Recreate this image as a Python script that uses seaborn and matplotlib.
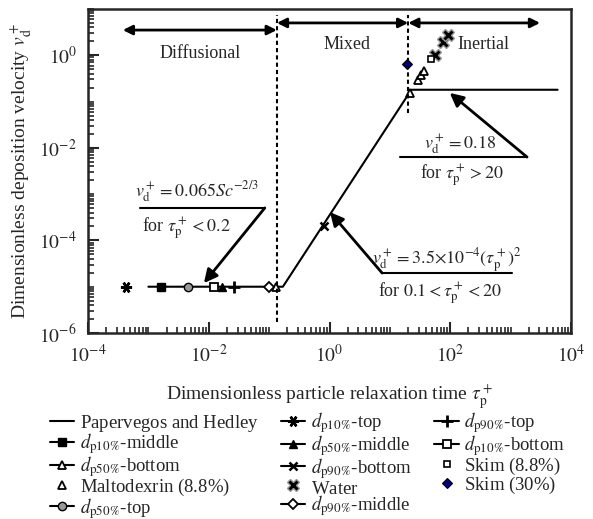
import numpy as np
import pandas as pd
import matplotlib.pyplot as plt
import matplotlib.ticker as mticker
import seaborn as sns

# Papervegos and Hedley correlation (piecewise)
pvh_tau = [1e-3, 0.169, 22.7, 6000]
pvh_vd = [1e-5, 1e-5, 0.18, 0.18]

# measured points (tau_p+, v_d+)
p10_top_tau, p10_top_vd = [4.3e-4], [1e-5]
p10_mid_tau, p10_mid_vd = [1.6e-3], [1e-5]
p10_bot_tau, p10_bot_vd = [0.012], [1e-5]
p50_top_tau, p50_top_vd = [4.5e-3], [1e-5]
p50_mid_tau, p50_mid_vd = [0.0166], [1e-5]
p50_bot_tau, p50_bot_vd = [0.13], [1e-5]
p90_top_tau, p90_top_vd = [0.026], [1e-5]
p90_mid_tau, p90_mid_vd = [0.1], [1e-5]
p90_bot_tau, p90_bot_vd = [0.8], [2.1e-4]
malto_tau, malto_vd = [21.5, 29, 33, 37], [0.15, 0.29, 0.37, 0.45]
water_tau, water_vd = [56, 76, 93], [1.0, 1.9, 2.8]
skim88_tau, skim88_vd = [48], [0.82]
skim30_tau, skim30_vd = [19], [0.64]

sns.set_style('ticks')
plt.rcParams['font.family'] = ['Liberation Serif', 'DejaVu Serif']
plt.rcParams['mathtext.fontset'] = 'stix'

fig = plt.figure(figsize=(5.93, 5.19), dpi=100)
ax = fig.add_axes([88/593, 1-333/519, 483/593, 324/519])

# invisible subscript so plain legend rows are as tall as the d_p rows
pad = r'$_{\ }$'

sns.lineplot(x=pvh_tau, y=pvh_vd, ax=ax, color='black', lw=1.5, sort=False,
             estimator=None, label='Papervegos and Hedley' + pad)

def dp(name):
    return r'$d_{\mathrm{' + name + r'}}$'

series = [
    (p10_mid_tau, p10_mid_vd, dp('p10\\%') + '-middle', dict(marker='s', mfc='black', mec='black', ms=6, ls='-')),
    (p50_bot_tau, p50_bot_vd, dp('p50\\%') + '-bottom', dict(marker='^', mfc='white', mec='black', ms=6, mew=1.3, ls='-')),
    (malto_tau, malto_vd, 'Maltodexrin (8.8%)' + pad, dict(marker='^', mfc='white', mec='black', ms=6, mew=1.3, ls='')),
    (p50_top_tau, p50_top_vd, dp('p50\\%') + '-top', dict(marker='o', mfc='0.6', mec='black', ms=6, ls='-')),
    (p10_top_tau, p10_top_vd, dp('p10\\%') + '-top', dict(marker=(6, 2, 90), mfc='black', mec='black', ms=8, mew=1.8, ls='-')),
    (p50_mid_tau, p50_mid_vd, dp('p50\\%') + '-middle', dict(marker='^', mfc='black', mec='black', ms=6, ls='-')),
    (p90_bot_tau, p90_bot_vd, dp('p90\\%') + '-bottom', dict(marker='x', mfc='black', mec='black', ms=6, mew=1.8, ls='-')),
    (water_tau, water_vd, 'Water' + pad, dict(marker='X', mfc='black', mec='0.6', ms=8, ls='')),
    (p90_mid_tau, p90_mid_vd, dp('p90\\%') + '-middle', dict(marker='D', mfc='white', mec='black', ms=5, mew=1.3, ls='-')),
    (p90_top_tau, p90_top_vd, dp('p90\\%') + '-top', dict(marker='+', mfc='black', mec='black', ms=8, mew=2, ls='-')),
    (p10_bot_tau, p10_bot_vd, dp('p10\\%') + '-bottom', dict(marker='s', mfc='white', mec='black', ms=6, mew=1.3, ls='-')),
    (skim88_tau, skim88_vd, 'Skim (8.8%)' + pad, dict(marker='s', mfc='white', mec='black', ms=5, mew=1.2, ls='')),
    (skim30_tau, skim30_vd, 'Skim (30%)' + pad, dict(marker='D', mfc='navy', mec='black', ms=5, mew=0.8, ls='')),
]
for tx, vy, lab, kw in series:
    ax.plot(tx, vy, color='black', lw=1.5, label=lab, **kw)

ax.set_xscale('log')
ax.set_yscale('log')
ax.set_xlim(1e-4, 1e4)
ax.set_ylim(1e-6, 1e1)

fmt = mticker.FuncFormatter(lambda v, p: r'$10^{%d}$' % round(np.log10(v)))
ax.xaxis.set_major_locator(mticker.FixedLocator([1e-4, 1e-2, 1e0, 1e2, 1e4]))
ax.yaxis.set_major_locator(mticker.FixedLocator([1e-6, 1e-4, 1e-2, 1e0]))
ax.xaxis.set_major_formatter(fmt)
ax.yaxis.set_major_formatter(fmt)
ax.xaxis.set_minor_locator(mticker.LogLocator(base=10, subs=np.arange(1, 10), numticks=100))
ax.yaxis.set_minor_locator(mticker.LogLocator(base=10, subs=np.arange(1, 10), numticks=100))
ax.xaxis.set_minor_formatter(mticker.NullFormatter())
ax.yaxis.set_minor_formatter(mticker.NullFormatter())
ax.tick_params(which='major', direction='in', length=8, width=1.5, labelsize=14, pad=8)
ax.tick_params(which='minor', direction='in', length=4, width=1.2)
for s in ax.spines.values():
    s.set_linewidth(1.8)

ax.set_xlabel(r'Dimensionless particle relaxation time $\tau_\mathrm{p}^+$', fontsize=14, labelpad=12)
ax.set_ylabel(r'Dimensionless deposition velocity $v_\mathrm{d}^+$', fontsize=14, labelpad=4)

# regime boundaries
T = ax.transAxes
ax.plot([0.391, 0.391], [0.034, 0.981], transform=T, color='black', lw=1.5, ls=(0, (2, 1.5)))
ax.plot([0.663, 0.663], [0.679, 0.981], transform=T, color='black', lw=1.5, ls=(0, (2, 1.5)))

arr2 = dict(arrowstyle='<|-|>', lw=2, color='black', mutation_scale=14, shrinkA=0, shrinkB=0)
ax.annotate('', xy=(0.072, 0.935), xytext=(0.391, 0.935), xycoords=T, arrowprops=arr2)
ax.annotate('', xy=(0.391, 0.957), xytext=(0.663, 0.957), xycoords=T, arrowprops=arr2)
ax.annotate('', xy=(0.663, 0.957), xytext=(0.936, 0.957), xycoords=T, arrowprops=arr2)
ax.text(0.232, 0.864, 'Diffusional', transform=T, ha='center', va='center', fontsize=13)
ax.text(0.536, 0.889, 'Mixed', transform=T, ha='center', va='center', fontsize=13)
ax.text(0.818, 0.889, 'Inertial', transform=T, ha='center', va='center', fontsize=13)

arr1 = dict(arrowstyle='-|>', lw=2, color='black', mutation_scale=20, shrinkA=0, shrinkB=0)

def note(top, bottom, ctop, cbot, line_x, line_y, start_x, tip):
    ax.text(ctop[0], ctop[1], top, transform=T, ha='center', va='center', fontsize=13)
    ax.text(cbot[0], cbot[1], bottom, transform=T, ha='center', va='center', fontsize=13)
    ax.plot(line_x, [line_y, line_y], transform=T, color='black', lw=1.5)
    ax.annotate('', xy=tip, xytext=(start_x, line_y), xycoords=T, arrowprops=arr1)

note(r'$v_\mathrm{d}^+=0.065Sc^{-2/3}$', r'for $\tau_\mathrm{p}^+ < 0.2$',
     (0.226, 0.435), (0.203, 0.324), (0.108, 0.366), 0.386, 0.366, (0.240, 0.154))
note(r'$v_\mathrm{d}^+=0.18$', r'for $\tau_\mathrm{p}^+ > 20$',
     (0.770, 0.580), (0.774, 0.488), (0.646, 0.909), 0.543, 0.909, (0.749, 0.741))
note(r'$v_\mathrm{d}^+=3.5{\times}10^{-4}(\tau_\mathrm{p}^+)^2$', r'for $0.1 < \tau_\mathrm{p}^+ < 20$',
     (0.743, 0.225), (0.729, 0.123), (0.609, 0.878), 0.185, 0.609, (0.501, 0.373))

handles, labels = ax.get_legend_handles_labels()
if ax.get_legend() is not None:
    ax.get_legend().remove()
fig.legend(handles, labels, loc='upper left', bbox_to_anchor=(42/593, 1-403/519), ncol=3,
           frameon=False, fontsize=13.5, handlelength=1.3, handletextpad=0.3,
           columnspacing=1.2, labelspacing=-0.12, borderaxespad=0)

fig.savefig('out.png', dpi=100)
